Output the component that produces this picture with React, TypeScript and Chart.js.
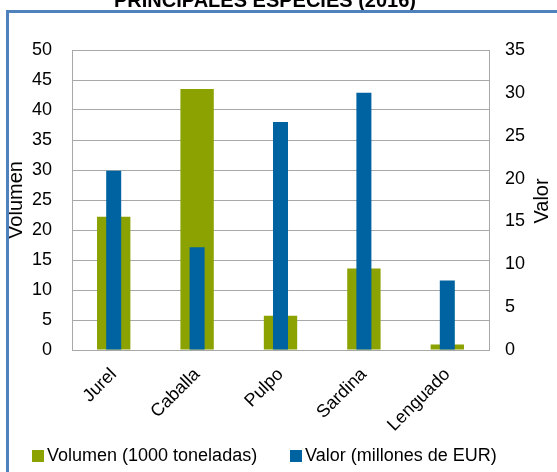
import { useEffect, useRef } from 'react';
import { Chart, registerables } from 'chart.js';

Chart.register(...registerables);

const categories = ['Jurel', 'Caballa', 'Pulpo', 'Sardina', 'Lenguado'];
const volumen = [22.2, 43.5, 5.7, 13.6, 0.9];
const valor = [20.9, 12.0, 26.6, 30.0, 8.1];
const seriesLabels = ['Volumen (1000 toneladas)', 'Valor (millones de EUR)'];
const chartTitle = 'PRINCIPALES ESPECIES (2016)';
const leftAxisTitle = 'Volumen';
const rightAxisTitle = 'Valor';

const FONT = '"Liberation Sans", Arial, sans-serif';
const GREEN = '#8CA200';
const BLUE = '#0063A1';
const GRID = '#a8a8a8';

const decorPlugin = {
  id: 'decor',
  afterDraw(chart: any) {
    const ctx = chart.ctx as CanvasRenderingContext2D;
    ctx.save();
    // title (cut off at top)
    ctx.fillStyle = '#000';
    ctx.font = `bold 20px ${FONT}`;
    ctx.textAlign = 'center';
    ctx.textBaseline = 'alphabetic';
    ctx.fillText(chartTitle, 265, 7);
    // outer border
    ctx.strokeStyle = '#4F81BD';
    ctx.lineWidth = 3;
    ctx.strokeRect(7.5, 11.5, 700, 700);
    // right axis title (reads bottom-to-top)
    ctx.save();
    ctx.translate(542, 201);
    ctx.rotate(-Math.PI / 2);
    ctx.font = `20px ${FONT}`;
    ctx.textAlign = 'center';
    ctx.textBaseline = 'middle';
    ctx.fillText(rightAxisTitle, 0, 0);
    ctx.restore();
    // legend
    const items = [
      { boxX: 32, textX: 47 },
      { boxX: 290, textX: 305 },
    ];
    ctx.font = `18px ${FONT}`;
    ctx.textAlign = 'left';
    ctx.textBaseline = 'middle';
    chart.data.datasets.forEach((ds: any, i: number) => {
      const it = items[i];
      ctx.fillStyle = ds.backgroundColor;
      ctx.fillRect(it.boxX, 450, 12, 12);
      ctx.fillStyle = '#000';
      ctx.fillText(ds.label, it.textX, 456);
    });
    ctx.restore();
  },
};

export default function App() {
  const ref = useRef<HTMLCanvasElement>(null);
  useEffect(() => {
    if (!ref.current) return;
    const chart = new Chart(ref.current, {
      type: 'bar',
      data: {
        labels: categories,
        datasets: [
          {
            label: seriesLabels[0],
            data: volumen,
            backgroundColor: GREEN,
            yAxisID: 'y',
            grouped: false,
            categoryPercentage: 1,
            barPercentage: 0.4,
            order: 2,
          } as any,
          {
            label: seriesLabels[1],
            data: valor,
            backgroundColor: BLUE,
            yAxisID: 'y1',
            grouped: false,
            categoryPercentage: 1,
            barPercentage: 0.18,
            order: 1,
          } as any,
        ],
      },
      options: {
        responsive: false,
        animation: false,
        devicePixelRatio: 1,
        layout: { padding: { top: 50, left: 0, right: 0, bottom: 0 } },
        plugins: {
          legend: { display: false },
          title: { display: false },
          tooltip: { enabled: false },
        },
        scales: {
          x: {
            grid: { display: false, drawTicks: false },
            border: { display: true, color: GRID },
            ticks: {
              minRotation: 45,
              maxRotation: 45,
              autoSkip: false,
              padding: 14,
              color: '#000',
              font: { family: FONT, size: 18 },
            },
            afterFit: (s: any) => {
              s.height = 122;
            },
          },
          y: {
            position: 'left',
            min: 0,
            max: 50,
            ticks: {
              stepSize: 5,
              padding: 20,
              color: '#000',
              font: { family: FONT, size: 18 },
            },
            grid: { color: GRID, drawTicks: false },
            border: { color: GRID },
            title: {
              display: true,
              text: leftAxisTitle,
              color: '#000',
              font: { family: FONT, size: 20 },
              padding: { top: 4, bottom: 0 },
            },
            afterFit: (s: any) => {
              s.width = 72;
            },
          },
          y1: {
            position: 'right',
            min: 0,
            max: 35,
            ticks: {
              stepSize: 5,
              padding: 16,
              color: '#000',
              font: { family: FONT, size: 18 },
            },
            grid: { drawOnChartArea: false, drawTicks: false },
            border: { color: GRID },
            afterFit: (s: any) => {
              s.width = 68;
            },
          },
        },
      } as any,
      plugins: [decorPlugin],
    });
    return () => chart.destroy();
  }, []);
  return (
    <div style={{ position: 'fixed', left: 0, top: 0, width: 557, height: 472, background: '#fff' }}>
      <canvas ref={ref} width={557} height={472} style={{ display: 'block' }} />
    </div>
  );
}
